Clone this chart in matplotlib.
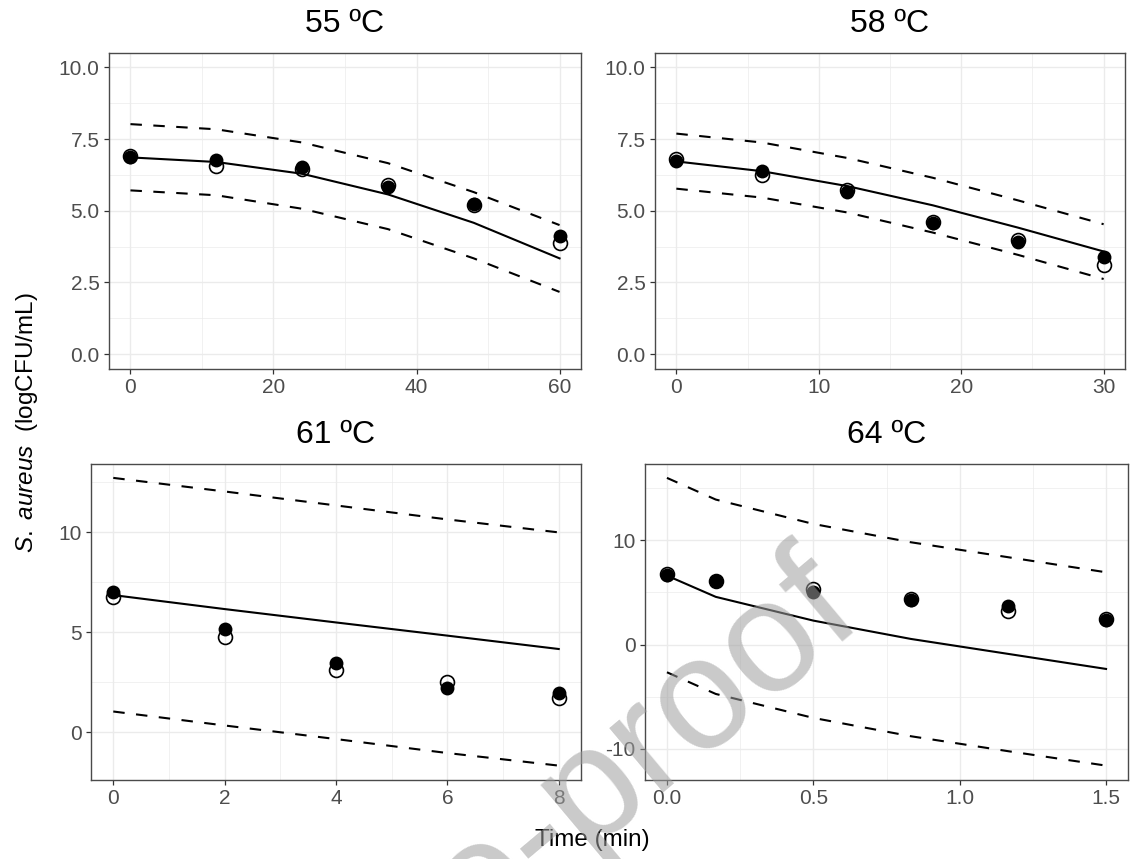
import numpy as np
import matplotlib
matplotlib.use('Agg')
import matplotlib.pyplot as plt
from matplotlib.ticker import MultipleLocator, FormatStrFormatter

plt.rcParams['font.family'] = ['Liberation Sans', 'DejaVu Sans']
plt.rcParams['mathtext.fontset'] = 'custom'
plt.rcParams['mathtext.rm'] = 'Liberation Sans'
plt.rcParams['mathtext.it'] = 'Liberation Sans:italic'
plt.rcParams['axes.unicode_minus'] = False

# ── Data: model fit, prediction band and two replicate series per temperature ──

titles = ['55 ºC', '58 ºC', '61 ºC', '64 ºC']

t55    = [0, 12, 24, 36, 48, 60]
fit55  = [6.86, 6.70, 6.29, 5.57, 4.58, 3.34]
upr55  = [8.02, 7.84, 7.38, 6.66, 5.65, 4.50]
lwr55  = [5.71, 5.54, 5.07, 4.36, 3.34, 2.17]
rep55a = [6.86, 6.77, 6.52, 5.82, 5.22, 4.13]
rep55b = [6.92, 6.57, 6.44, 5.90, 5.19, 3.86]

t58    = [0, 6, 12, 18, 24, 30]
fit58  = [6.72, 6.38, 5.86, 5.19, 4.41, 3.58]
upr58  = [7.69, 7.38, 6.84, 6.15, 5.36, 4.53]
lwr58  = [5.77, 5.46, 4.94, 4.24, 3.46, 2.62]
rep58a = [6.72, 6.40, 5.65, 4.59, 3.90, 3.40]
rep58b = [6.80, 6.26, 5.71, 4.61, 3.98, 3.11]

t61    = [0, 2, 4, 6, 8]
fit61  = [6.86, 6.16, 5.49, 4.83, 4.16]
upr61  = [12.73, 12.05, 11.35, 10.65, 10.00]
lwr61  = [1.03, 0.33, -0.35, -1.05, -1.68]
rep61a = [7.02, 5.16, 3.44, 2.23, 1.95]
rep61b = [6.77, 4.74, 3.11, 2.50, 1.70]

t64    = [0, 10/60, 30/60, 50/60, 70/60, 90/60]
fit64  = [6.62, 4.58, 2.30, 0.54, -0.90, -2.34]
upr64  = [16.00, 13.92, 11.58, 9.82, 8.38, 6.94]
lwr64  = [-2.66, -4.74, -7.04, -8.80, -10.24, -11.62]
rep64a = [6.72, 6.08, 5.02, 4.32, 3.68, 2.40]
rep64b = [6.78, 6.14, 5.34, 4.38, 3.20, 2.46]

panels = [
    (t55, fit55, upr55, lwr55, rep55a, rep55b),
    (t58, fit58, upr58, lwr58, rep58a, rep58b),
    (t61, fit61, upr61, lwr61, rep61a, rep61b),
    (t64, fit64, upr64, lwr64, rep64a, rep64b),
]

# axis settings: x major/minor, y major/minor, formats, fixed y limits
x_steps  = [(20, 10), (10, 5), (2, 1), (0.5, 0.25)]
y_steps  = [(2.5, 1.25), (2.5, 1.25), (5, 2.5), (10, 5)]
x_fmt    = ['%g', '%g', '%g', '%.1f']
y_fmt    = ['%.1f', '%.1f', '%g', '%g']
y_fixed  = [(0, 10), (0, 10), None, None]

# panel boxes in pixels: left, right, top, bottom
W, H = 1131, 859
boxes = [(109, 581, 53, 368.5), (655, 1125, 53, 368.5),
         (91, 581, 463.5, 780), (645, 1128, 463.5, 780)]

fig = plt.figure(figsize=(W / 100, H / 100), dpi=100)

for i, (t, fit, upr, lwr, ra, rb) in enumerate(panels):
    l, r, tp, bt = boxes[i]
    ax = fig.add_axes([l / W, 1 - bt / H, (r - l) / W, (bt - tp) / H])

    ax.plot(t, upr, color='black', lw=1.5, dashes=(5.5, 5.5))
    ax.plot(t, lwr, color='black', lw=1.5, dashes=(5.5, 5.5))
    ax.plot(t, fit, color='black', lw=1.5)
    ax.plot(t, rb, 'o', ms=10, mfc='none', mec='black', mew=1.2)
    ax.plot(t, ra, 'o', ms=10, mfc='black', mec='black', mew=0)

    # ggplot-like 5% expansion
    xr = max(t) - min(t)
    ax.set_xlim(min(t) - 0.05 * xr, max(t) + 0.05 * xr)
    if y_fixed[i]:
        lo, hi = y_fixed[i]
    else:
        allv = np.concatenate([fit, upr, lwr, ra, rb])
        lo, hi = allv.min(), allv.max()
    yr = hi - lo
    ax.set_ylim(lo - 0.05 * yr, hi + 0.05 * yr)

    ax.xaxis.set_major_locator(MultipleLocator(x_steps[i][0]))
    ax.xaxis.set_minor_locator(MultipleLocator(x_steps[i][1]))
    ax.yaxis.set_major_locator(MultipleLocator(y_steps[i][0]))
    ax.yaxis.set_minor_locator(MultipleLocator(y_steps[i][1]))
    ax.xaxis.set_major_formatter(FormatStrFormatter(x_fmt[i]))
    ax.yaxis.set_major_formatter(FormatStrFormatter(y_fmt[i]))

    ax.grid(which='major', color='#EBEBEB', lw=1.0)
    ax.grid(which='minor', color='#EBEBEB', lw=0.5)
    ax.set_axisbelow(True)
    ax.tick_params(which='major', length=3.8, width=0.9, color='#333333',
                   labelsize=15, labelcolor='#4D4D4D', pad=3)
    ax.tick_params(which='minor', length=0)
    for s in ax.spines.values():
        s.set_color('#4A4A4A')
        s.set_linewidth(1.0)

    ax.set_title(titles[i], fontsize=23, pad=15)

fig.text(27 / W, 1 - 423 / H, r'$\it{S.\ aureus}$  (logCFU/mL)',
         rotation=90, ha='center', va='center', fontsize=17.5)
fig.text(592 / W, 1 - 840 / H, 'Time (min)', ha='center', va='center',
         fontsize=17.5)

# draft watermark over the lower panels
fig.text(866 / W, 1 - 622 / H, 'Journal Pre-proof', fontsize=115,
         rotation=40, rotation_mode='anchor', ha='right', va='baseline',
         color='#9E9E9E', alpha=0.55, zorder=10)

fig.savefig('out.png', dpi=100)
